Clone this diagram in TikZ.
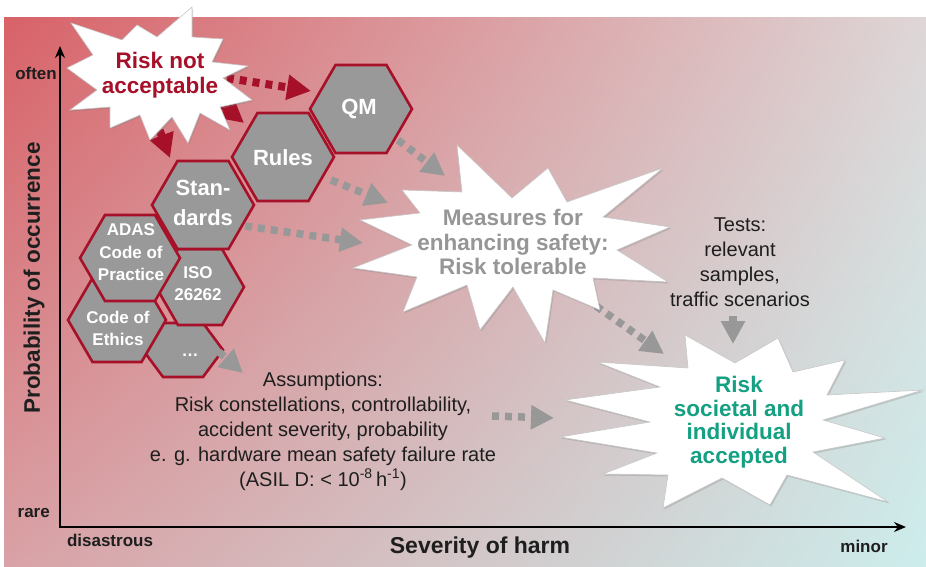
\documentclass[tikz,border=0pt]{standalone}
\usepackage{fontspec}
\setmainfont{Liberation Sans}
\usetikzlibrary{arrows.meta,shadows,shadings}
\definecolor{hexred}{RGB}{166,16,40}
\definecolor{hexgray}{RGB}{153,153,153}
\definecolor{arrgray}{RGB}{152,152,152}
\definecolor{accgreen}{RGB}{20,160,130}
\definecolor{measgray}{RGB}{150,150,150}
\definecolor{txtdark}{RGB}{30,30,30}
\definecolor{bgUL}{RGB}{216,98,104}
\definecolor{bgUR}{RGB}{222,214,215}
\definecolor{bgLL}{RGB}{217,162,166}
\definecolor{bgLR}{RGB}{204,237,236}
\newcommand\hexcell[9][]{%
  \draw[hexstyle] ({#3-#5},#4) -- ({#3-#5/2},{#4-#6}) -- ({#3+#5/2},{#4-#6}) -- ({#3+#5},#4) -- ({#3+#5/2},{#4+#6}) -- ({#3-#5/2},{#4+#6}) -- cycle;
  \node[hextext,#1] (#2) at (#7,#8) {#9};}
\begin{document}
\begin{tikzpicture}[x=1pt,y=-1pt,
 hexstyle/.style={fill=hexgray,draw=hexred,line width=2.6pt,line join=miter},
 hextext/.style={text=white,font=\bfseries\fontsize{17}{22.5}\selectfont,align=center,inner sep=0pt},
 bighex/.style={font=\bfseries\fontsize{22}{30}\selectfont},
 starbox/.style={fill=white,draw=black!22,line width=0.6pt,line join=miter,drop shadow={shadow xshift=1.2pt,shadow yshift=-1.5pt,opacity=0.3}},
 redarr/.style={draw=hexred,line width=8pt,dash pattern=on 7pt off 6pt,-{Triangle[length=24pt,width=24pt]}},
 grayarr/.style={draw=arrgray,line width=7.5pt,dash pattern=on 7pt off 6pt,-{Triangle[length=23pt,width=23pt]}},
 axis/.style={line width=2.2pt,line join=miter,{Stealth[length=12pt,width=10pt]}-{Stealth[length=12pt,width=10pt]}},
 axlab/.style={font=\bfseries\fontsize{17}{20}\selectfont,text=txtdark,inner sep=0pt},
 startext/.style={font=\bfseries\fontsize{22.5}{24.5}\selectfont,align=center,inner sep=0pt},
 note/.style={font=\fontsize{20}{25}\selectfont,text=txtdark,align=center,inner sep=0pt}]
\useasboundingbox (0,0) rectangle (926,567);
\fill[white] (0,0) rectangle (926,567);
\shade[upper left=bgUL,upper right=bgUR,lower left=bgLL,lower right=bgLR] (4,18) rectangle (926,567);

% axes
\coordinate (ytip) at (60,46);
\coordinate (orig) at (60,527);
\coordinate (xtip) at (906,527);
\draw[axis] (ytip) -- (orig) -- (xtip);
\node[axlab,anchor=east] (often) at (57,73) {often};
\node[axlab,anchor=east] (rare) at (50,513) {rare};
\node[axlab] (disas) at (110,540) {disastrous};
\node[axlab] (minor) at (864,546) {minor};
\node[font=\bfseries\fontsize{23}{26}\selectfont,text=txtdark,inner sep=0pt] (sev) at (480,548) {Severity of harm};
\node[font=\bfseries\fontsize{22.5}{26}\selectfont,text=txtdark,inner sep=0pt,rotate=90] (prob) at (34,278) {Probability of occurrence};

% hexagons
\hexcell{dots}{183}{350}{40}{27}{190}{355}{…}
\hexcell{iso}{200}{287}{44}{38}{198}{283.5}{ISO\\26262}
\hexcell{ethics}{117}{320}{49}{42}{118}{328.5}{Code of\\Ethics}
\hexcell[bighex]{std}{203}{205}{51}{44}{203}{203}{Stan-\\dards}
\hexcell{adas}{130}{258}{50}{43}{131}{252.5}{ADAS\\Code of\\Practice}
\hexcell[bighex]{rules}{283}{157}{51}{44}{283}{158}{Rules}
\hexcell[bighex]{qm}{361}{109}{51}{44}{359}{109}{QM}

% arrow end points
\coordinate (r1a) at (214,76);  \coordinate (r1b) at (311,91);
\coordinate (r2a) at (210,95);  \coordinate (r2b) at (244,123);
\coordinate (r3a) at (155,118); \coordinate (r3b) at (170,158);
\coordinate (g1a) at (398,140); \coordinate (g1b) at (445,176);
\coordinate (g2a) at (331,180); \coordinate (g2b) at (388,203);
\coordinate (g3a) at (245,226); \coordinate (g3b) at (363,243);
\coordinate (g4a) at (596,306); \coordinate (g4b) at (664,354);
\coordinate (g5a) at (733,316); \coordinate (g5b) at (733,344);
\coordinate (g6a) at (219,352); \coordinate (g6b) at (243,373);
\coordinate (g7a) at (492,416); \coordinate (g7b) at (554,418);

\draw[redarr] (r1a) -- (r1b);
\draw[redarr] (r2a) -- (r2b);
\draw[redarr] (r3a) -- (r3b);
\draw[grayarr] (g1a) -- (g1b);
\draw[grayarr] (g2a) -- (g2b);
\draw[grayarr] (g3a) -- (g3b);
\draw[grayarr] (g4a) -- (g4b);
\draw[grayarr] (g5a) -- (g5b);
\draw[grayarr] (g6a) -- (g6b);
\draw[grayarr] (g7a) -- (g7b);

% star: risk not acceptable
\path[starbox] (71,23) -- (122,40) -- (137,25) -- (157,37) -- (192,7) -- (192,37) -- (223,39) -- (212,62)
  -- (248,66) -- (223,78) -- (252,100) -- (220,107) -- (230,130) -- (200,113) -- (188,143) -- (172,117)
  -- (150,140) -- (140,115) -- (110,128) -- (110,107) -- (70,110) -- (97,90) -- (67,68) -- (93,55) -- cycle;
\node[startext,text=hexred] (rna) at (160,75) {Risk not\\acceptable};

% star: measures
\path[starbox] (457,145) -- (512,198) -- (548,168) -- (567,202) -- (663,168) -- (603,217) -- (670,227)
  -- (617,250) -- (668,282) -- (593,278) -- (600,310) -- (553,290) -- (545,343) -- (513,287) -- (480,330)
  -- (467,285) -- (403,312) -- (417,277) -- (353,268) -- (412,245) -- (360,220) -- (420,213) -- (402,190)
  -- (462,192) -- cycle;
\node[startext,text=measgray] (meas) at (513,242) {Measures for\\enhancing safety:\\Risk tolerable};

% star: accepted
\path[starbox] (685,335) -- (735,363) -- (778,338) -- (793,372) -- (845,360) -- (827,395) -- (923,390)
  -- (823,420) -- (885,438) -- (813,452) -- (888,502) -- (787,475) -- (770,505) -- (722,478) -- (663,508)
  -- (668,475) -- (603,474) -- (657,453) -- (560,437) -- (650,422) -- (565,400) -- (660,387) -- (597,362)
  -- (688,368) -- cycle;
\node[startext,text=accgreen,font=\bfseries\fontsize{22.5}{23.5}\selectfont] (acc) at (739,422) {Risk\\societal and\\individual\\accepted};

% notes
\node[note] (tests) at (740,262) {Tests:\\relevant\\samples,\\traffic scenarios};
\node[note] (assump) at (323,431) {Assumptions:\\Risk constellations, controllability,\\accident severity, probability\\e. g. hardware mean safety failure rate\\(ASIL D: < 10\textsuperscript{-8}\,h\textsuperscript{-1})};
\end{tikzpicture}
\end{document}
